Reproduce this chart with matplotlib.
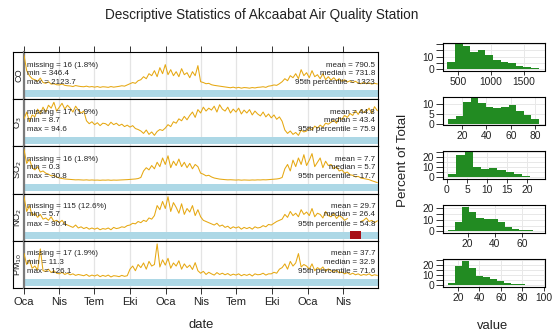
import datetime as dt
import numpy as np
import matplotlib
matplotlib.use("Agg")
import matplotlib.pyplot as plt
import matplotlib.dates as mdates
from matplotlib.patches import Rectangle

plt.rcParams["font.family"] = ["Liberation Sans", "DejaVu Sans"]

START = dt.date(2019, 1, 1)
END = dt.date(2021, 7, 1)

names = ["CO", "O$_3$", "SO$_2$", "NO$_2$", "PM$_{10}$"]

# weekly values (from 1 Jan 2019)
co = [2124, 1350, 1100, 950, 900, 820, 980, 760, 720, 800, 680, 700, 650,
      640, 690, 620, 600, 590, 560, 610, 580, 560, 550, 580, 540, 560,
      530, 560, 520, 550, 540, 520, 560, 530, 550, 570, 600, 580, 640,
      700, 760, 720, 850, 900, 1050, 950, 1200, 1100, 1350, 1050, 1500, 1200,
      1650, 1150, 1400, 1100, 1300, 1050, 1450, 1150, 1250, 1000, 1300, 1100, 1600,
      800, 760, 700, 720, 650, 620, 600, 580, 560, 540, 520, 500, 530,
      490, 520, 480, 510, 500, 480, 510, 490, 520, 530, 550, 520, 580,
      600, 640, 620, 700, 800, 950, 850, 1100, 1000, 1200, 950, 1400, 1100,
      1250, 1000, 1350, 1050, 1150, 950, 1200, 900, 1050, 880, 1000, 850, 950,
      820, 900, 780, 850, 760, 820, 740, 700, 760, 700, 740, 680, 720, 690]
o3 = [50, 64, 44, 58, 54, 70, 60, 74, 64, 78, 72, 84, 66,
      74, 82, 70, 78, 72, 64, 76, 68, 62, 66, 46, 40, 44,
      38, 42, 36, 41, 40, 36, 43, 38, 41, 36, 39, 34, 37,
      33, 36, 30, 28, 25, 20, 27, 18, 23, 16, 24, 28, 26,
      31, 38, 34, 44, 41, 50, 46, 55, 48, 57, 64, 53, 69,
      62, 74, 66, 72, 68, 76, 64, 79, 70, 66, 74, 62, 70,
      64, 72, 60, 68, 62, 69, 58, 66, 60, 56, 64, 54, 60,
      52, 58, 49, 54, 45, 27, 20, 25, 18, 22, 16, 27, 23,
      25, 32, 27, 35, 31, 37, 33, 41, 39, 43, 47, 41, 52,
      49, 57, 53, 61, 57, 67, 59, 69, 63, 65, 72, 61, 75, 67]
so2 = [30.8, 18, 22, 14, 12, 15, 10, 11, 9, 8, 6.5, 7, 5.5,
       4.5, 4, 3.6, 3.4, 3.2, 3, 2.8, 2.9, 2.7, 2.6, 2.8, 2.5, 2.7,
       2.5, 2.6, 2.4, 2.6, 2.5, 2.7, 2.4, 2.6, 2.5, 2.6, 2.8, 2.7, 3,
       3.2, 3.4, 3.6, 4, 5, 11, 14, 12, 16, 13, 19, 15, 23,
       17, 25, 14, 20, 16, 22, 15, 19, 14, 18, 13, 17, 15,
       9, 8, 6.5, 7, 5.5, 4.5, 4, 3.5, 3.2, 3, 2.8, 2.9, 2.7,
       2.6, 2.8, 2.5, 2.7, 2.6, 2.5, 2.7, 2.6, 2.8, 2.7, 2.9, 2.8, 3,
       3.2, 3.4, 3.6, 4, 5, 13, 17, 11, 21, 15, 23, 17, 26,
       16, 21, 27, 15, 19, 23, 14, 20, 16, 17, 13, 15, 11,
       12, 9, 10, 7.5, 7, 5.5, 6, 4.5, 4, 3.5, 3, 2, 1.2, 0.3]
no2 = [70, 45, 55, 38, 42, 35, 40, 32, 34, 30, 36, 28, 30,
       26, 30, 24, 22, 20, 18, 22, 17, 19, 16, 18, 15, 17,
       15, 17, 14, 16, 15, 17, 14, 18, 16, 17, 19, 18, 21,
       22, 25, 24, 28, 26, 30, 28, 34, 32, 38, 55, 48, 62,
       50, 70, 45, 60, 52, 42, 58, 40, 50, 44, 55, 38, 48,
       36, 30, 28, 26, 24, 22, 25, 20, 22, 18, 20, 16, 19,
       17, 19, 15, 18, 16, 18, 15, 19, 17, 18, 21, 19, 23,
       22, 25, 28, 30, 32, 40, 35, 45, 38, 42, 36, 48, 40,
       44, 38, 50, 36, 42, 40, 34, 45, 38, 36, 42, 33, 38,
       35, 30, 33, np.nan, np.nan, np.nan, np.nan, 28, 30, 34, 28, 30, 26, 29]
pm10 = [95, 60, 75, 48, 55, 42, 110, 40, 38, 45, 34, 40, 32,
        30, 35, 28, 32, 27, 30, 25, 28, 26, 24, 28, 22, 26,
        23, 27, 21, 25, 22, 26, 20, 24, 23, 21, 25, 22, 24,
        45, 55, 40, 60, 50, 65, 45, 70, 55, 60, 126.1, 52, 75,
        58, 80, 48, 65, 55, 72, 45, 62, 50, 58, 44, 66, 40,
        32, 38, 28, 35, 30, 26, 34, 28, 32, 27, 31, 25, 29,
        26, 30, 24, 28, 25, 29, 23, 30, 27, 28, 32, 26, 30,
        30, 35, 32, 45, 50, 62, 45, 70, 55, 65, 95, 52, 60,
        55, 45, 62, 40, 50, 44, 52, 38, 46, 40, 35, 42, 33,
        36, 30, 34, 28, 32, 27, 30, 25, 28, 26, 30, 24, 27, 25]
series = [co, o3, so2, no2, pm10]

missing = ["16 (1.8%)", "17 (1.9%)", "16 (1.8%)", "115 (12.6%)", "17 (1.9%)"]
mins = ["346.4", "8.7", "0.3", "5.7", "11.3"]
maxs = ["2123.7", "94.6", "30.8", "90.4", "126.1"]
means = ["790.5", "44.8", "7.7", "29.7", "37.7"]
medians = ["731.8", "43.4", "5.7", "26.4", "32.9"]
p95s = ["1323", "75.9", "17.7", "54.8", "71.6"]

# histogram bins (percent of total)
co_edges = [340, 455, 570, 685, 800, 915, 1030, 1145, 1260, 1375, 1490, 1605, 1720]
co_pct = [6.0, 20.0, 18.5, 14.0, 15.3, 11.3, 7.4, 6.0, 4.7, 2.6, 1.6, 1.0]
o3_edges = [8.5, 14.7, 20.9, 27.1, 33.3, 39.5, 45.7, 51.9, 58.1, 64.3, 70.5, 76.7, 82.9]
o3_pct = [2.4, 3.7, 11.1, 13.0, 10.6, 8.7, 8.0, 8.5, 9.3, 6.5, 4.6, 2.4]
so2_edges = [0.3, 2.35, 4.4, 6.45, 8.5, 10.55, 12.6, 14.65, 16.7, 18.75, 20.8, 22.85]
so2_pct = [3.5, 21.8, 25.3, 10.5, 8.8, 9.3, 7.7, 5.3, 3.5, 1.8, 0.7]
no2_edges = [5.7, 10.9, 16.1, 21.3, 26.5, 31.7, 36.9, 42.1, 47.3, 52.5, 57.7, 62.9, 68.1, 73.3]
no2_pct = [1.0, 8.5, 21.5, 17.0, 12.0, 11.0, 10.5, 8.5, 3.5, 2.5, 1.5, 1.0, 0.6]
pm10_edges = [11, 17.5, 24, 30.5, 37, 43.5, 50, 56.5, 63, 69.5, 76, 82.5, 89, 95.5]
pm10_pct = [2.8, 19.5, 24.0, 17.2, 9.5, 8.2, 6.2, 4.0, 2.8, 1.3, 1.1, 0.8, 0.4]
hists = [(co_edges, co_pct), (o3_edges, o3_pct), (so2_edges, so2_pct),
         (no2_edges, no2_pct), (pm10_edges, pm10_pct)]

hist_xlim = [(273, 1818), (4.4, 88), (-1, 24.5), (2.1, 76.6), (6, 101.2)]
hist_ylim = [(-0.8, 20.8), (-0.5, 13.6), (-1, 26), (-0.9, 23), (-1, 26)]
hist_xticks = [[500, 1000, 1500], [20, 40, 60, 80], [0, 5, 10, 15, 20],
               [20, 40, 60], [20, 40, 60, 80, 100]]
hist_yticks = [[0, 5, 10, 15, 20], [0, 5, 10], [0, 5, 10, 15, 20, 25],
               [0, 5, 10, 15, 20], [0, 5, 10, 15, 20, 25]]
hist_ylabels = [["0", "", "10", "", ""], ["0", "5", "10"],
                ["0", "", "10", "", "20", ""], ["0", "", "10", "", "20"],
                ["0", "", "10", "", "20", ""]]

month_ticks = [dt.date(y, m, 1) for y in (2019, 2020, 2021) for m in (1, 4, 7, 10)]
month_ticks = [d for d in month_ticks if d < END]
month_names = {1: "Oca", 4: "Nis", 7: "Tem", 10: "Eki"}

LINE = "#E6A812"
BAR = "#ADD8E6"
MISS = "#A80F17"
GREEN = "#228B22"
TXT = "#222222"

W, H = 554, 336
fig = plt.figure(figsize=(W / 100, H / 100), dpi=100)


def box(x0, y0, x1, y1):
    return [x0 / W, 1 - y1 / H, (x1 - x0) / W, (y1 - y0) / H]


ph = 47.2
for i, (name, vals) in enumerate(zip(names, series)):
    y0 = 52 + i * ph
    strip = fig.add_axes(box(13, y0, 24, y0 + ph))
    strip.set_xticks([])
    strip.set_yticks([])
    strip.spines["right"].set_visible(False)
    for s in ("left", "top", "bottom"):
        strip.spines[s].set_linewidth(0.8)
    strip.text(0.5, 0.5, name, rotation=90, ha="center", va="center",
               fontsize=6.6, color=TXT, transform=strip.transAxes)

    ax = fig.add_axes(box(24, y0, 378, y0 + ph))
    v = np.array(vals, dtype=float)
    dates = [START + dt.timedelta(days=7 * k) for k in range(len(v))]
    ax.plot(dates, v, color=LINE, lw=0.75, zorder=3)

    dmin, dmax = np.nanmin(v), np.nanmax(v)
    span = (dmax - dmin) / 0.70
    lo = dmin - 0.234 * span
    ax.set_ylim(lo, lo + span)
    ax.set_yticks([])
    ax.set_xlim(START, END)

    tr = ax.get_xaxis_transform()
    x0n, x1n = mdates.date2num(START), mdates.date2num(END)
    ax.add_patch(Rectangle((x0n, 0.045), x1n - x0n, 0.15, transform=tr,
                           color=BAR, lw=0, zorder=2))
    nan_idx = np.where(np.isnan(v))[0]
    if len(nan_idx):
        m0 = mdates.date2num(dates[nan_idx[0]])
        m1 = mdates.date2num(dates[nan_idx[-1]]) + 7
        ax.add_patch(Rectangle((m0, 0.035), m1 - m0, 0.17, transform=tr,
                               color=MISS, lw=0, zorder=2.5))

    ax.set_xticks(month_ticks)
    ax.grid(axis="x", color="#E4E4E4", lw=0.9)
    ax.set_axisbelow(True)
    for s in ("top", "right", "bottom"):
        ax.spines[s].set_linewidth(0.8)
    ax.spines["left"].set_color("#7A7A7A")
    ax.spines["left"].set_linewidth(1.6)

    if i == 0:
        ax.tick_params(axis="x", top=True, bottom=False, labeltop=False,
                       labelbottom=False, length=4, width=0.7, color="#333333")
    elif i == len(names) - 1:
        ax.tick_params(axis="x", length=4, width=0.7, color="#333333",
                       labelsize=8, pad=2.5, labelcolor=TXT)
        ax.set_xticklabels([month_names[d.month] for d in month_ticks])
    else:
        ax.tick_params(axis="x", length=0, labelbottom=False)

    left = ["missing = " + missing[i], "min = " + mins[i], "max = " + maxs[i]]
    right = ["mean = " + means[i], "median = " + medians[i],
             "95th percentile = " + p95s[i]]
    for yy, lt, rt in zip((0.723, 0.547, 0.355), left, right):
        ax.text(0.009, yy, lt, transform=ax.transAxes, ha="left", va="center",
                fontsize=5.8, color=TXT, zorder=5)
        ax.text(0.992, yy, rt, transform=ax.transAxes, ha="right", va="center",
                fontsize=5.8, color=TXT, zorder=5)

htops = [43, 97, 151, 205, 259]
for j, (edges, pct) in enumerate(hists):
    hx = fig.add_axes(box(443, htops[j], 545, htops[j] + 27.5))
    e = np.array(edges, dtype=float)
    hx.bar(e[:-1], pct, width=np.diff(e), align="edge", color=GREEN, lw=0,
           zorder=2)
    hx.set_xlim(*hist_xlim[j])
    hx.set_ylim(*hist_ylim[j])
    hx.set_xticks(hist_xticks[j])
    hx.set_yticks(hist_yticks[j])
    hx.set_yticklabels(hist_ylabels[j])
    hx.grid(color="#E8E8E8", lw=0.7)
    hx.set_axisbelow(True)
    hx.tick_params(axis="x", labelsize=7.4, length=3, width=0.7, pad=1.5,
                   color="#333333", labelcolor=TXT)
    hx.tick_params(axis="y", labelsize=7.4, length=5, width=0.7, pad=1.5,
                   color="#333333", labelcolor=TXT)
    for s in hx.spines.values():
        s.set_linewidth(0.8)

fig.text(262 / W, 1 - 15 / H, "Descriptive Statistics of Akcaabat Air Quality Station",
         ha="center", va="center", fontsize=9.8, color=TXT)
fig.text(201 / W, 1 - 325 / H, "date", ha="center", va="center", fontsize=9.4, color=TXT)
fig.text(493 / W, 1 - 326 / H, "value", ha="center", va="center", fontsize=9.4, color=TXT)
fig.text(403 / W, 1 - 160 / H, "Percent of Total", rotation=90, ha="center",
         va="center", fontsize=9.6, color=TXT)

fig.savefig("out.png", dpi=100)
